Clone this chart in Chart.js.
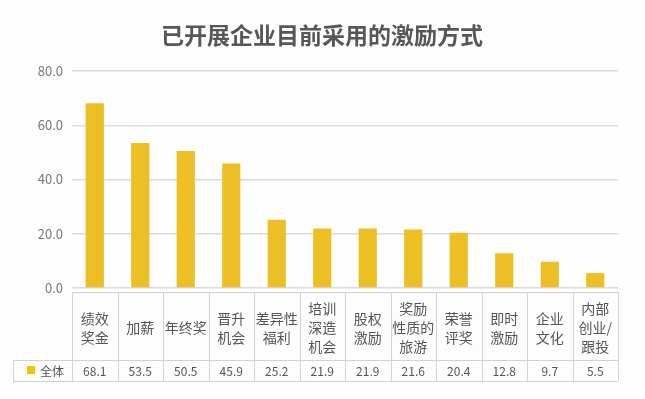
<!DOCTYPE html>
<html>
<head>
<meta charset="utf-8">
<script src="https://cdn.jsdelivr.net/npm/chart.js@4"></script>
<style>
    html, body { margin: 0; padding: 0; background: #fdfdfe; }
    #wrap { width: 645px; height: 399px; }
</style>
</head>
<body>
<div id="wrap"><canvas id="chart" width="645" height="399"></canvas></div>
<script>
// Data
const chartTitle = '已开展企业目前采用的激励方式';
const categories = [
    ['绩效', '奖金'], ['加薪'], ['年终奖'], ['晋升', '机会'], ['差异性', '福利'],
    ['培训', '深造', '机会'], ['股权', '激励'], ['奖励', '性质的', '旅游'], ['荣誉', '评奖'],
    ['即时', '激励'], ['企业', '文化'], ['内部', '创业/', '跟投']
];
const seriesName = '全体';
const seriesValues = [68.1, 53.5, 50.5, 45.9, 25.2, 21.9, 21.9, 21.6, 20.4, 12.8, 9.7, 5.5];
const yTicks = [0, 20, 40, 60, 80];

const BAR_COLOR = '#ECC024';
const GRID = '#dadada';
const TEXT = '#555';
const FONT = '"Noto Sans CJK SC", "Noto Sans", sans-serif';

// Title and the data table under the plot (labels + values)
const dataTable = {
    id: 'dataTable',
    afterDraw(chart) {
        const ctx = chart.ctx;
        const x = chart.scales.x;
        const area = chart.chartArea;
        const n = categories.length;
        const step = (area.right - area.left) / n;
        const top = area.bottom + 4;
        const mid = 360;
        const bottom = 381;
        const legendLeft = 13;

        ctx.save();
        ctx.fillStyle = '#575757';
        ctx.textAlign = 'center';
        ctx.textBaseline = 'middle';
        ctx.font = 'bold 23px ' + FONT;
        ctx.fillText(chartTitle, 322, 35);

        ctx.strokeStyle = '#d2d2d2';
        ctx.lineWidth = 1;
        ctx.beginPath();
        // horizontal lines
        ctx.moveTo(area.left, top + 0.5); ctx.lineTo(area.right, top + 0.5);
        ctx.moveTo(legendLeft, mid + 0.5); ctx.lineTo(area.right, mid + 0.5);
        ctx.moveTo(legendLeft, bottom + 0.5); ctx.lineTo(area.right, bottom + 0.5);
        // vertical lines
        ctx.moveTo(legendLeft + 0.5, mid); ctx.lineTo(legendLeft + 0.5, bottom);
        for (let i = 0; i <= n; i++) {
            const xx = Math.round(area.left + i * step) + 0.5;
            ctx.moveTo(xx, top); ctx.lineTo(xx, bottom);
        }
        ctx.stroke();

        // category labels, centred in header cells
        ctx.fillStyle = TEXT;
        ctx.font = '14px ' + FONT;
        const lineH = 19;
        categories.forEach((lines, i) => {
            const cx = x.getPixelForValue(i);
            const cy = (top + mid) / 2 + 2;
            const y0 = cy - (lines.length - 1) * lineH / 2;
            lines.forEach((t, j) => ctx.fillText(t, cx, y0 + j * lineH));
        });

        // values row
        ctx.font = '12px ' + FONT;
        seriesValues.forEach((v, i) => {
            ctx.fillText(v.toFixed(1), x.getPixelForValue(i), (mid + bottom) / 2 + 1);
        });

        // legend cell
        ctx.fillStyle = '#F3C400';
        ctx.fillRect(27, 366, 8, 8);
        ctx.fillStyle = TEXT;
        ctx.textAlign = 'left';
        ctx.fillText(seriesName, 40, (mid + bottom) / 2 + 1);
        ctx.restore();
    }
};

const ctx = document.getElementById('chart').getContext('2d');
new Chart(ctx, {
    type: 'bar',
    data: {
        labels: categories.map(c => c.join('')),
        datasets: [{
            label: seriesName,
            data: seriesValues,
            backgroundColor: BAR_COLOR,
            barPercentage: 0.4,
            categoryPercentage: 1
        }]
    },
    options: {
        responsive: false,
        animation: false,
        layout: { padding: { left: 0, right: 27, top: 71, bottom: 111 } },
        plugins: {
            legend: { display: false },
            tooltip: { enabled: false },
            title: { display: false }
        },
        scales: {
            x: { display: false },
            y: {
                min: 0,
                max: 80,
                afterFit(scale) { scale.width = 72; },
                afterBuildTicks(scale) { scale.ticks = yTicks.map(v => ({ value: v })); },
                border: { display: false },
                grid: { color: GRID, lineWidth: 1.5, drawTicks: false },
                ticks: {
                    padding: 9,
                    color: '#777',
                    font: { family: FONT, size: 13 },
                    callback: v => v.toFixed(1)
                }
            }
        }
    },
    plugins: [dataTable]
});
</script>
</body>
</html>
